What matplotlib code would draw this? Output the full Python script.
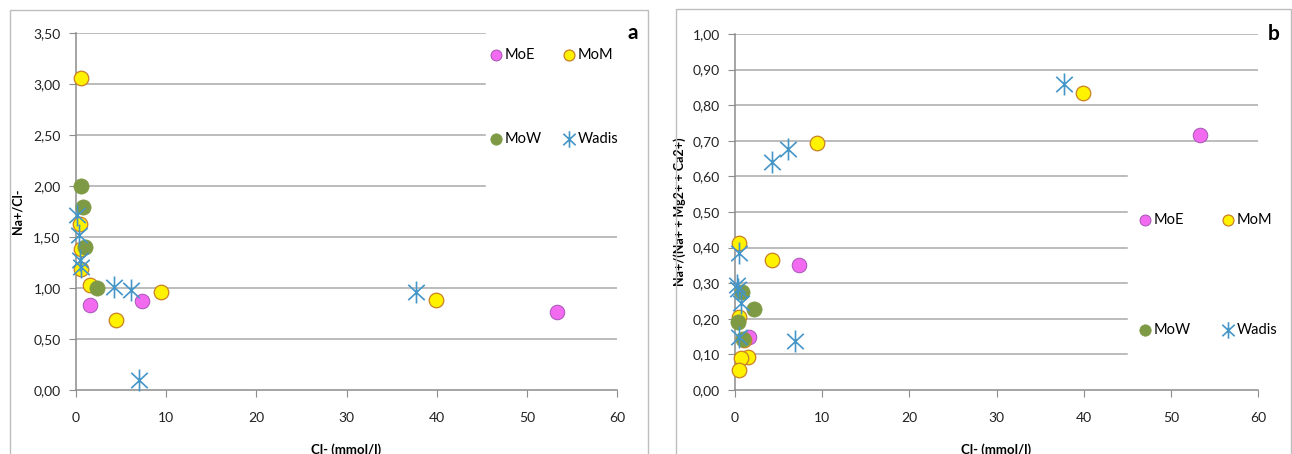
import matplotlib
matplotlib.use("Agg")
import matplotlib.pyplot as plt
from matplotlib.path import Path
from matplotlib.patches import Rectangle
from matplotlib.ticker import FuncFormatter

plt.rcParams["font.family"] = ["Lato", "DejaVu Sans"]

# ---- data: panel a, Na+/Cl- against Cl- (mmol/l) ---------------------------
moe_cl_a = [1.6, 7.35, 53.4]
moe_y_a = [0.83, 0.87, 0.76]
mom_cl_a = [0.5, 0.45, 0.5, 0.6, 1.5, 4.4, 9.4, 39.9]
mom_y_a = [3.06, 1.63, 1.38, 1.19, 1.03, 0.69, 0.96, 0.88]
mow_cl_a = [0.5, 0.74, 1.0, 2.36]
mow_y_a = [2.00, 1.79, 1.40, 1.00]
wadis_cl_a = [0.07, 0.3, 0.44, 0.5, 4.2, 6.06, 7.0, 37.7]
wadis_y_a = [1.72, 1.52, 1.27, 1.21, 1.01, 0.98, 0.10, 0.96]

# ---- data: panel b, Na+/(Na+ + Mg2+ + Ca2+) against Cl- --------------------
moe_cl_b = [1.6, 7.35, 53.4]
moe_y_b = [0.15, 0.35, 0.715]
mom_cl_b = [0.46, 4.3, 9.4, 39.9, 0.46, 1.0, 1.5, 0.65, 0.46]
mom_y_b = [0.414, 0.365, 0.695, 0.835, 0.206, 0.14, 0.092, 0.09, 0.056]
mow_cl_b = [0.77, 2.2, 0.38, 0.95]
mow_y_b = [0.276, 0.227, 0.19, 0.142]
wadis_cl_b = [0.46, 0.27, 0.4, 0.65, 0.46, 6.9, 4.2, 6.06, 37.7]
wadis_y_b = [0.384, 0.295, 0.285, 0.243, 0.15, 0.139, 0.64, 0.678, 0.86]

GRID = "#A9A9A9"
AXIS = "#8C8C8C"

# Excel-style asterisk: vertical bar plus an X
STAR = Path([(0, -1), (0, 1), (-0.75, -0.7), (0.75, 0.7), (-0.75, 0.7), (0.75, -0.7)],
            [Path.MOVETO, Path.LINETO] * 3)


def comma(v, _):
    return f"{v:.2f}".replace(".", ",")


def draw_panel(ax, series, ymax, ystep, grid_cut, cut_range, ylabel, ypad,
               letter, leg_center, leg_cols, leg_rows):
    ax.set_xlim(0, 60)
    ax.set_ylim(0, ymax)
    ax.set_xticks(range(0, 61, 10))
    yticks = [round(i * ystep, 2) for i in range(int(round(ymax / ystep)) + 1)]
    ax.set_yticks(yticks)
    ax.yaxis.set_major_formatter(FuncFormatter(comma))
    # gridlines stop short where the legend sits
    lo, hi = cut_range
    for y in yticks[1:]:
        xmax = grid_cut if lo - 1e-9 <= y <= hi + 1e-9 else 1.0
        ax.axhline(y, 0, xmax, color=GRID, lw=1.1, zorder=0)

    cl_moe, y_moe, cl_mom, y_mom, cl_mow, y_mow, cl_w, y_w = series
    h1 = ax.scatter(cl_moe, y_moe, s=110, c="#F26AF0", edgecolors="#A555B5",
                    linewidths=0.7, label="MoE", zorder=3, clip_on=False)
    h2 = ax.scatter(cl_mom, y_mom, s=110, c="#FFF200", edgecolors="#C98024",
                    linewidths=0.9, label="MoM", zorder=4, clip_on=False)
    h3 = ax.scatter(cl_mow, y_mow, s=120, c="#7F9A45", edgecolors="#7F9A45",
                    linewidths=0.5, label="MoW", zorder=5, clip_on=False)
    h4 = ax.scatter(cl_w, y_w, s=250, marker=STAR, c="#4596C8",
                    linewidths=1.2, label="Wadis", zorder=6, clip_on=False)

    for side in ("top", "right"):
        ax.spines[side].set_visible(False)
    for side in ("left", "bottom"):
        ax.spines[side].set_color(AXIS)
        ax.spines[side].set_linewidth(1.1)
    ax.tick_params(axis="y", direction="out", length=5, color=AXIS, pad=6,
                   labelsize=10, labelcolor="#222222")
    ax.tick_params(axis="x", direction="out", length=5, color=AXIS, pad=11,
                   labelsize=10, labelcolor="#222222")
    ax.set_ylabel(ylabel, fontsize=9, fontweight="bold", labelpad=ypad)
    ax.set_xlabel("Cl- (mmol/l)", fontsize=9.5, fontweight="bold", labelpad=14)
    ax.text(1.03, 1.0, letter, transform=ax.transAxes, fontsize=15,
            fontweight="bold", ha="center", va="center")

    ax.legend(handles=[h1, h3, h2, h4], ncol=2, loc="center",
              bbox_to_anchor=leg_center, frameon=False, fontsize=10.5,
              markerscale=0.75, handlelength=0.7, handletextpad=0.25,
              columnspacing=leg_cols, labelspacing=leg_rows, borderpad=0)


fig = plt.figure(figsize=(12.92, 4.54), dpi=100)

# outer borders around each chart
fig.patches.append(Rectangle((10 / 1292, -0.1), 638 / 1292, 1.1 - 10 / 454,
                             transform=fig.transFigure, fill=False,
                             ec="#BDBDBD", lw=1.0))
fig.patches.append(Rectangle((676 / 1292, -0.1), 615 / 1292, 1.1 - 9 / 454,
                             transform=fig.transFigure, fill=False,
                             ec="#BDBDBD", lw=1.0))

ax_a = fig.add_axes([76 / 1292, 1 - 390 / 454, 541 / 1292, 357 / 454])
draw_panel(ax_a, (moe_cl_a, moe_y_a, mom_cl_a, mom_y_a,
                  mow_cl_a, mow_y_a, wadis_cl_a, wadis_y_a),
           3.5, 0.5, 0.756, (2.0, 3.5), "Na+/Cl-", 7, "a",
           (0.885, 0.82), 1.5, 4.8)

ax_b = fig.add_axes([735 / 1292, 1 - 390 / 454, 523 / 1292, 356 / 454])
draw_panel(ax_b, (moe_cl_b, moe_y_b, mom_cl_b, mom_y_b,
                  mow_cl_b, mow_y_b, wadis_cl_b, wadis_y_b),
           1.0, 0.1, 0.75, (0.1, 0.6), "Na+/(Na+ + Mg2+ + Ca2+)", 5, "b",
           (0.905, 0.323), 2.2, 6.6)

fig.savefig("out.png", dpi=100)
